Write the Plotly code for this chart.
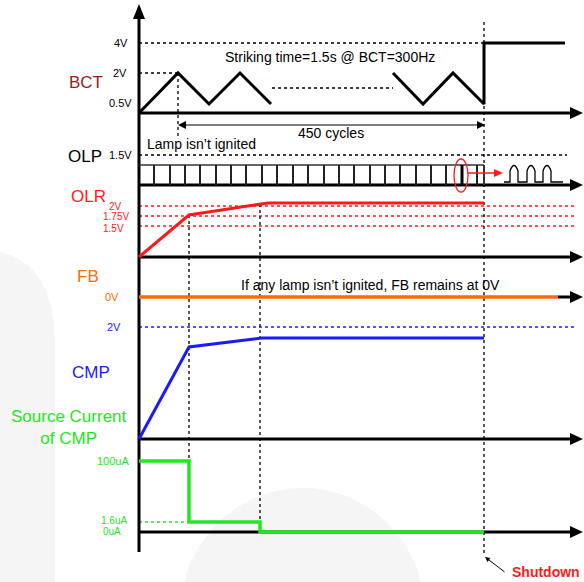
import plotly.graph_objects as go

# diagram time/level coordinates (pixel space of the original drawing)
t0 = 139          # start of time axis
t_peak = 178      # first BCT peak
t_ign1 = 189      # first knee of OLR / CMP
t_ign2 = 260      # second knee
t_end = 484       # shutdown after 450 cycles

# lane baselines
lane_bct, lane_olp, lane_olr, lane_fb, lane_cmp, lane_src = 113, 185, 257, 297, 439, 532

# BCT ramp waveform
bct_x1 = [139, 178, 209, 240, 271]
bct_y1 = [113, 73, 104, 73, 104]
bct_x2 = [393, 423, 453, 484, 484, 565]
bct_y2 = [73, 104, 73, 104, 43, 43]

# OLP pulse edges
olp_edges = [154, 170, 185, 200, 216, 231, 246, 262, 277, 293, 308, 324,
             339, 354, 370, 385, 400, 416, 431, 446, 462, 477]

# OLR, CMP and source current waveforms
olr_x = [139, 189, 268, 484]
olr_y = [257, 215, 203, 203]
cmp_x = [139, 189, 262, 484]
cmp_y = [439, 347, 338, 338]
src_x = [139, 189, 189, 260, 260, 484]
src_y = [461, 461, 522, 522, 532, 532]

BLACK = "#000000"
RED = "#ff1a1a"
ORANGE = "#ff6a00"
BLUE = "#1a1aff"
GREEN = "#22e622"
FONT = "Arial, Liberation Sans, sans-serif"

W, H = 584, 582

fig = go.Figure()


def line(xs, ys, color=BLACK, width=3, dash=None):
    fig.add_trace(go.Scatter(x=xs, y=ys, mode="lines", hoverinfo="skip",
                             line=dict(color=color, width=width, dash=dash)))


def arrow_right(y, x_end=583):
    fig.add_shape(type="path", path=f"M{x_end},{y} L{x_end-13},{y-6} L{x_end-13},{y+6} Z",
                  fillcolor=BLACK, line=dict(width=0))


def text(x, y, s, color=BLACK, size=11, xanchor="center", bold=False):
    if bold:
        s = f"<b>{s}</b>"
    fig.add_annotation(x=x, y=y, text=s, showarrow=False, xanchor=xanchor, yanchor="middle",
                       font=dict(family=FONT, size=size, color=color))


# faint watermark in background
fig.add_shape(type="path", path="M0,252 Q55,265 55,345 L55,582 L0,582 Z",
              fillcolor="#f5f5f5", line=dict(width=0), layer="below")
fig.add_shape(type="circle", x0=180, x1=425, y0=488, y1=740,
              fillcolor="#f5f5f5", line=dict(width=0), layer="below")

# guide lines (dotted)
line([139, 484], [43, 43], width=1.3, dash="dot")
line([139, 178], [73, 73], width=1.3, dash="dot")
line([272, 393], [88, 88], width=1.3, dash="dot")
line([139, 567], [155, 155], width=1.3, dash="dot")
for yv in [206, 216, 226]:
    line([139, 576], [yv, yv], color=RED, width=1.5, dash="dot")
line([139, 576], [327, 327], color=BLUE, width=1.5, dash="dot")
line([139, 189], [522, 522], color=GREEN, width=1.5, dash="dot")
line([t_peak, t_peak], [73, 137], width=1.3, dash="dot")
line([t_ign1, t_ign1], [215, 522], width=1.3, dash="dot")
line([t_ign2, t_ign2], [204, 532], width=1.3, dash="dot")
line([t_end, t_end], [22, 553], width=1.3, dash="dot")

# axes
line([t0, t0], [14, 552], width=3)
fig.add_shape(type="path", path="M139,4 L133,19 L145,19 Z", fillcolor=BLACK, line=dict(width=0))
for yv in [lane_bct, lane_olp, lane_olr, lane_cmp, lane_src]:
    line([t0, 572], [yv, yv], width=3)
    arrow_right(yv)
line([558, 572], [lane_fb, lane_fb], width=3)
arrow_right(lane_fb)

# BCT
line(bct_x1, bct_y1, width=3)
line(bct_x2, bct_y2, width=3)

# 450 cycles span
line([181, 481], [125, 125], width=1.2)
fig.add_shape(type="path", path="M178,125 L186,121 L186,129 Z", fillcolor=BLACK, line=dict(width=0))
fig.add_shape(type="path", path="M485,125 L477,121 L477,129 Z", fillcolor=BLACK, line=dict(width=0))

# OLP pulse train
line([t0, t_end], [165, 165], color="#333333", width=1.5)
for xe in olp_edges:
    line([xe, xe], [165, 185], color="#222222" if xe != 462 else BLACK, width=2 if xe != 462 else 3)
line([t_end, t_end], [165, 185], color="#333333", width=2)
fig.add_shape(type="circle", x0=454, x1=468, y0=159, y1=192, line=dict(color=RED, width=1.3))
line([468, 496], [173, 173], color=RED, width=1.5)
fig.add_shape(type="path", path="M503,173 L494,169 L494,177 Z", fillcolor=RED, line=dict(width=0))
fig.add_shape(type="path",
              path=("M504,182 L510,182 L510,171 Q514,160 518,171 L518,182 L527,182 L527,171 "
                    "Q531,160 535,171 L535,182 L543,182 L543,171 Q547,160 551,171 L551,182 L563,182"),
              line=dict(color=BLACK, width=1.3))

# OLR / FB / CMP / source current
line(olr_x, olr_y, color=RED, width=3)
line([t0, 558], [lane_fb, lane_fb], color=ORANGE, width=3.5)
line(cmp_x, cmp_y, color=BLUE, width=3)
line(src_x, src_y, color=GREEN, width=3.5)

# shutdown pointer
fig.add_annotation(x=485, y=557, ax=506, ay=573, xref="x", yref="y", axref="x", ayref="y",
                   text="", showarrow=True, arrowhead=2, arrowsize=1, arrowwidth=1, arrowcolor=BLACK)
text(546, 572, "Shutdown", RED, 14, bold=True)

# labels
text(86, 82, "BCT", "#9b1c1c", 17)
text(130, 43, "4V", xanchor="right")
text(129, 73, "2V", xanchor="right")
text(134, 103, "0.5V", xanchor="right")
text(330, 57, "Striking time=1.5s @ BCT=300Hz", size=14)
text(331, 133, "450 cycles", size=14)
text(145, 144, "Lamp isn’t ignited", size=14, xanchor="left")
text(85, 156, "OLP", size=17)
text(134, 155, "1.5V", xanchor="right")
text(88, 196, "OLR", RED, 17)
text(124, 206, "2V", RED, 10, xanchor="right")
text(131, 216, "1.75V", RED, 10, xanchor="right")
text(126, 228, "1.5V", RED, 10, xanchor="right")
text(88, 276, "FB", ORANGE, 17)
text(121, 297, "0V", ORANGE, xanchor="right")
text(370, 285, "If any lamp isn’t ignited, FB remains at 0V", size=14)
text(123, 327, "2V", BLUE, xanchor="right")
text(91, 372, "CMP", BLUE, 17)
text(69, 427, "Source Current<br>of CMP", GREEN, 17)
text(131, 461, "100uA", GREEN, xanchor="right")
text(129, 520, "1.6uA", GREEN, 10, xanchor="right")
text(123, 531, "0uA", GREEN, 10, xanchor="right")

fig.update_xaxes(range=[0, W], visible=False, fixedrange=True)
fig.update_yaxes(range=[H, 0], visible=False, fixedrange=True)
fig.update_layout(width=W, height=H, margin=dict(l=0, r=0, t=0, b=0),
                  plot_bgcolor="white", paper_bgcolor="white", showlegend=False)

# drop the default page margin so the figure fills the window exactly
fig.write_html("out.html", config={"displayModeBar": False},
               post_script="document.body.style.margin='0';document.body.style.overflow='hidden';")
